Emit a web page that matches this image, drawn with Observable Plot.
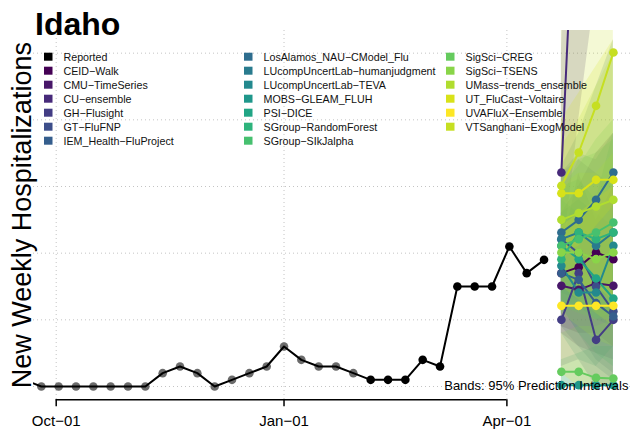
<!DOCTYPE html>
<html><head><meta charset="utf-8">
<script src="https://cdn.jsdelivr.net/npm/d3@7"></script>
<script src="https://cdn.jsdelivr.net/npm/@observablehq/plot@0.6"></script>
<style>
body{margin:0;background:#fff}
#wrap{position:relative;width:632px;height:433px;overflow:hidden;font-family:"Liberation Sans",Arial,sans-serif}
#wrap svg{position:absolute;left:0;top:0}
</style></head>
<body><div id="wrap"></div>
<script>
const stateName = "Idaho";
const yTitle = "New Weekly Hospitalizations";
const bandNote = "Bands: 95% Prediction Intervals";

const reportedDates = ["2022-09-18","2022-09-25","2022-10-02","2022-10-09","2022-10-16","2022-10-23","2022-10-30","2022-11-06","2022-11-13","2022-11-20","2022-11-27","2022-12-04","2022-12-11","2022-12-18","2022-12-25","2023-01-01","2023-01-08","2023-01-15","2023-01-22","2023-01-29","2023-02-05","2023-02-12","2023-02-19","2023-02-26","2023-03-05","2023-03-12","2023-03-19","2023-03-26","2023-04-02","2023-04-09","2023-04-16"];
const reportedValues = [1,0,0,0,0,0,0,0,2,3,2,0,1,2,3,6,4,3,3,2,1,1,1,4,3,15,15,15,21,17,19];
const finalizedFrom = "2023-02-05";

const tickDates = ["2022-10-01","2023-01-01","2023-04-01"];
const tickLabels = ["Oct\u221201","Jan\u221201","Apr\u221201"];
const gridValues = [0,10,20,30,40,50];

const forecastDates = ["2023-04-23","2023-04-30","2023-05-07","2023-05-14"];
const models = ["CEID\u2212Walk","CMU\u2212TimeSeries","CU\u2212ensemble","GH\u2212Flusight","GT\u2212FluFNP","IEM_Health\u2212FluProject","LosAlamos_NAU\u2212CModel_Flu","LUcompUncertLab\u2212humanjudgment","LUcompUncertLab\u2212TEVA","MOBS\u2212GLEAM_FLUH","PSI\u2212DICE","SGroup\u2212RandomForest","SGroup\u2212SIkJalpha","SigSci\u2212CREG","SigSci\u2212TSENS","UMass\u2212trends_ensemble","UT_FluCast\u2212Voltaire","UVAFluX\u2212Ensemble","VTSanghani\u2212ExogModel"];
const forecastMedian = [
  [17.0,17.9,20.1,19.1],
  [15.1,14.5,15.5,15.1],
  [32.1,88,125,160],
  [10.0,17.0,7.0,10.0],
  [22.1,20.0,15.0,11.3],
  [17.0,16.0,12.5,10.5],
  [23.1,25.0,28.0,32.1],
  [22.1,23.1,21.1,23.1],
  [18.1,14.1,14.1,21.1],
  [0.2,0.2,0.2,0.2],
  [21.1,19.1,16.2,13.2],
  [19.1,23.1,22.1,23.1],
  [21.1,22.1,23.1,24.6],
  [2.2,2.2,1.3,1.2],
  [20.1,20.1,19.1,20.1],
  [25.0,26.0,27.0,28.0],
  [29.0,29.0,31.0,31.0],
  [12.1,12.1,12.1,12.1],
  [30.1,35.1,42.1,50.1]
];
const forecastLower = [
  [9,8,8,6],[8,6,5,4],[18,40,60,75],[3,4,0,0],[12,8,4,2],[9,6,3,1],[14,13,13,14],[13,12,10,9],[8,4,3,6],[0,0,0,0],
  [12,8,5,3],[11,12,10,10],[12,11,10,11],[0,0,0,0],[11,9,7,6],[15,13,11,9],[18,15,15,13],[2,0,0,0],[20,21,24,27]
];
const forecastUpper = [
  [26,30,35,38],[23,25,28,30],[50,140,200,260],[20,32,25,30],[32,34,32,30],[26,28,26,24],[33,38,45,52],[32,35,34,38],[28,26,28,38],[4,5,6,6],
  [30,31,28,26],[28,34,35,37],[30,33,37,40],[8,9,9,10],[30,32,32,35],[36,40,45,50],[40,44,48,52],[24,26,28,30],[56,70,90,110]
];

const modelColors = models.map((m, i) => i < 18 ? d3.interpolateViridis(i / 17) : "#c6df22");

const reported = reportedDates.map((d, i) => ({date: new Date(d), value: reportedValues[i], final: d >= finalizedFrom}));
const forecast = [];
models.forEach((m, j) => forecastDates.forEach((d, k) => forecast.push({
  model: m, date: new Date(d), median: forecastMedian[j][k], lo: forecastLower[j][k], hi: forecastUpper[j][k]
})));
const ticks = tickDates.map(d => new Date(d));
const labelOf = new Map(ticks.map((d, i) => [+d, tickLabels[i]]));

const font = "Liberation Sans, Arial, sans-serif";
const chart = Plot.plot({
  width: 632, height: 433,
  marginLeft: 33, marginRight: 2, marginTop: 30, marginBottom: 33.7,
  style: {fontFamily: font, background: "transparent"},
  x: {type: "utc", domain: [new Date("2022-09-21T20:00Z"), new Date("2023-05-20T22:00Z")]},
  y: {domain: [-1.995, 53.4], axis: null},
  color: {domain: models, range: modelColors},
  marks: [
    Plot.gridY(gridValues, {stroke: "#c4c4c4", strokeOpacity: 1, strokeDasharray: "1,3"}),
    Plot.gridX(ticks, {stroke: "#c4c4c4", strokeOpacity: 1, strokeDasharray: "1,3"}),
    Plot.areaY(forecast, {x: "date", y1: "lo", y2: "hi", z: "model", fill: "model", fillOpacity: 0.19, clip: true}),
    Plot.dot(reported, {x: "date", y: "value", r: 4.3, fill: d => d.final ? "#000" : "#6b6b6b", stroke: "none", clip: true}),
    Plot.line(reported, {x: "date", y: "value", stroke: "#000", strokeWidth: 2, clip: true}),
    Plot.line(forecast, {x: "date", y: "median", z: "model", stroke: "model", strokeWidth: 2, clip: true}),
    Plot.dot(forecast, {x: "date", y: "median", fill: "model", r: 4.3, stroke: "none", clip: true}),
    Plot.ruleY([-1.995], {x1: ticks[0], x2: ticks[ticks.length - 1], stroke: "#000", strokeWidth: 1.5}),
    Plot.axisX(ticks, {tickFormat: d => labelOf.get(+d), tickSize: 7, tickPadding: 9, fontSize: 15, stroke: "#000", strokeWidth: 1.5, fill: "#000"}),
    Plot.text([bandNote], {frameAnchor: "bottom-right", textAnchor: "end", lineAnchor: "bottom", dx: -2, dy: -10, fontSize: 13, fill: "#000"}),
    Plot.text([yTitle], {frameAnchor: "left", rotate: -90, textAnchor: "middle", lineAnchor: "middle", dx: -11, fontSize: 27, fill: "#000"})
  ]
});
const wrap = document.getElementById("wrap");
wrap.appendChild(chart);

// overlay: title and legend
const ov = d3.select(wrap).append("svg").attr("width", 632).attr("height", 433)
  .style("font-family", font);
ov.append("text").attr("x", 35).attr("y", 35).attr("font-size", 32).attr("font-weight", "bold").text(stateName);

const legendNames = ["Reported", ...models];
const legendColors = ["#000", ...modelColors];
const colX = [44, 244, 446];
const perCol = 7;
legendNames.forEach((name, i) => {
  const c = Math.floor(i / perCol), r = i % perCol;
  const cy = 56.7 + r * 14;
  ov.append("rect").attr("x", colX[c]).attr("y", cy - 4).attr("width", 8.5).attr("height", 8).attr("fill", legendColors[i]);
  ov.append("text").attr("x", colX[c] + 19.5).attr("y", cy + 3.8).attr("font-size", 10.7).attr("fill", "#111").text(name);
});
</script>
</body></html>
